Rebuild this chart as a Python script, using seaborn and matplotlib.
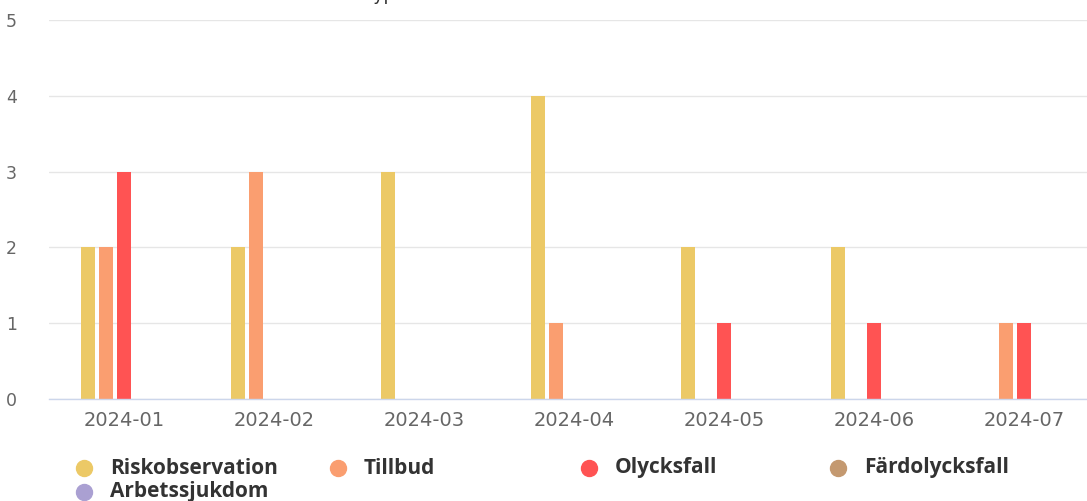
import matplotlib
matplotlib.use("Agg")
import matplotlib.pyplot as plt
from matplotlib.lines import Line2D
import pandas as pd
import seaborn as sns

months = ["2024-01", "2024-02", "2024-03", "2024-04", "2024-05", "2024-06", "2024-07"]
types = ["Riskobservation", "Tillbud", "Olycksfall", "Färdolycksfall", "Arbetssjukdom"]
riskobservation = [2, 2, 3, 4, 2, 2, 0]
tillbud = [2, 3, 0, 1, 0, 0, 1]
olycksfall = [3, 0, 0, 0, 1, 1, 1]
fardolycksfall = [0, 0, 0, 0, 0, 0, 0]
arbetssjukdom = [0, 0, 0, 0, 0, 0, 0]
colors = ["#ECC966", "#FA9E70", "#FF5353", "#C49970", "#AAA0D2"]

series = [riskobservation, tillbud, olycksfall, fardolycksfall, arbetssjukdom]
rows = []
for name, vals in zip(types, series):
    for m, v in zip(months, vals):
        rows.append({"month": m, "type": name, "count": v})
df = pd.DataFrame(rows)

sns.set_theme(style="white")
plt.rcParams["font.family"] = ["DejaVu Sans"]

W, H = 1087, 501
fig = plt.figure(figsize=(W / 100, H / 100), dpi=100)
fig.patch.set_facecolor("white")
ax = fig.add_axes([49 / W, (H - 399) / H, 1050 / W, (399 - 20) / H])

sns.barplot(data=df, x="month", y="count", hue="type", order=months,
            hue_order=types, palette=colors, width=0.595, gap=0.22,
            linewidth=0, saturation=1, legend=False, ax=ax, errorbar=None)

ax.set_xlim(-0.5, len(months) - 0.5)
ax.set_ylim(0, 5)
ax.set_yticks([0, 1, 2, 3, 4, 5])
ax.set_xlabel("")
ax.set_ylabel("")
ax.set_axisbelow(True)
ax.yaxis.grid(True, color="#E6E6E6", linewidth=1)
ax.xaxis.grid(False)
for s in ["top", "right", "left"]:
    ax.spines[s].set_visible(False)
ax.spines["bottom"].set_color("#CCD6EB")
ax.spines["bottom"].set_linewidth(1)

ax.tick_params(axis="x", length=0, pad=9, labelsize=14, labelcolor="#666666")
ax.tick_params(axis="y", length=0, pad=31, labelsize=12.5, labelcolor="#666666")
for lab in ax.get_yticklabels():
    lab.set_horizontalalignment("left")

# Heading sits above the top edge; only its lowest strokes show
fig.text(5 / W, 1.0, "Antal anmälda händelser sorterade efter typ och månad",
         fontsize=12.5, color="#333333", ha="left", va="baseline")

# Legend laid out in fixed columns
legend_pos = [(84, 468), (338, 468), (589, 468), (838, 468), (84, 492)]
for name, col, (px, py) in zip(types, colors, legend_pos):
    fig.add_artist(Line2D([px / W], [1 - py / H], marker="o", markersize=11.5,
                          color=col, linestyle="none", transform=fig.transFigure))
    fig.text((px + 26) / W, 1 - py / H, name, fontsize=15, fontweight="bold",
             family=["Open Sans", "DejaVu Sans"], color="#333333",
             ha="left", va="center")

fig.savefig("out.png", dpi=100)
